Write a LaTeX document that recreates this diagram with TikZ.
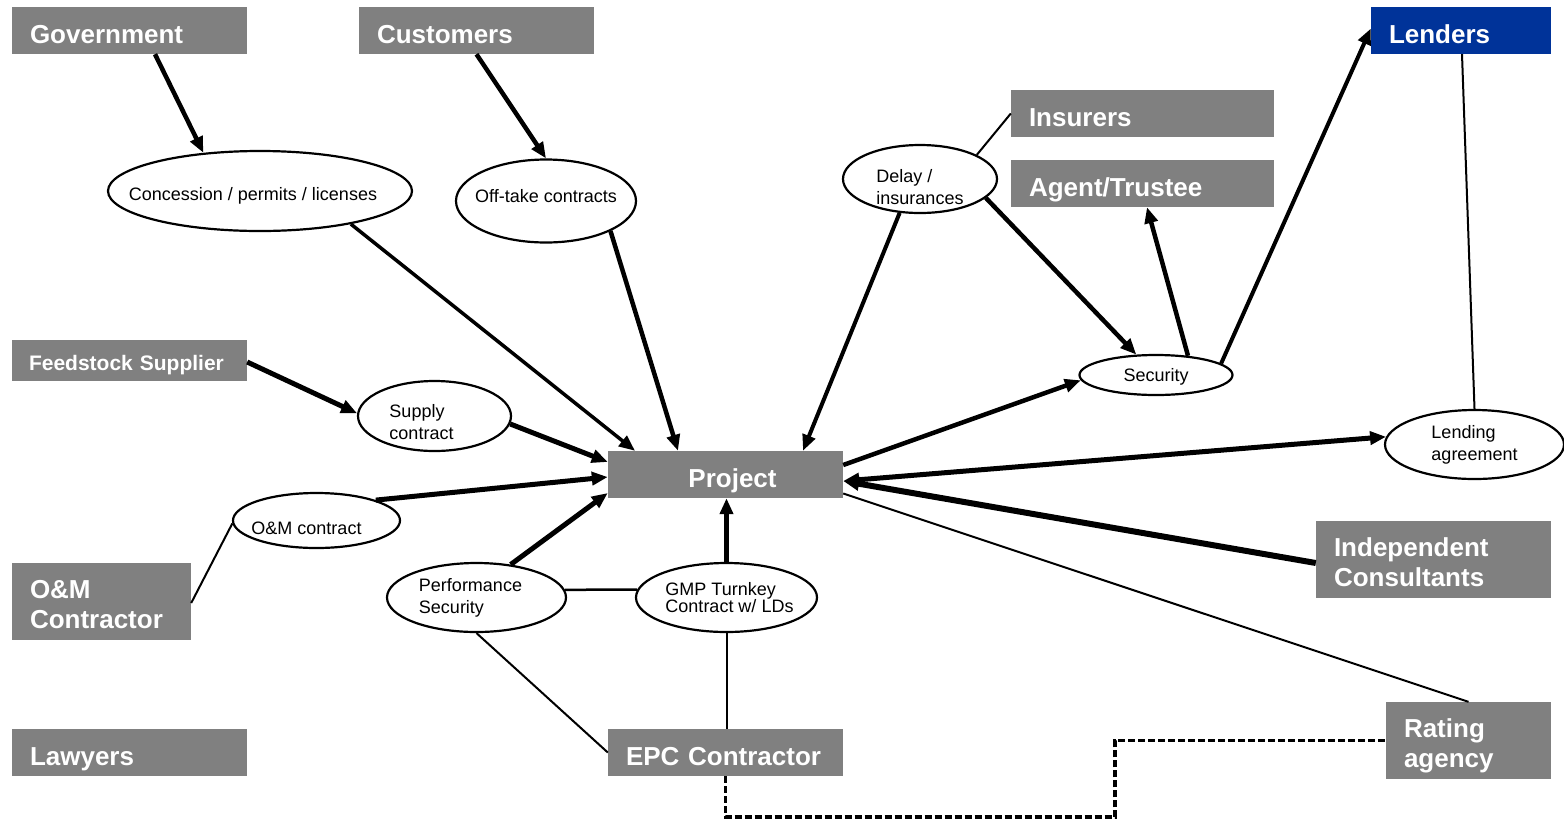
\documentclass[tikz,border=0pt]{standalone}
\usepackage{fontspec}
\setmainfont{Liberation Sans}
\usetikzlibrary{shapes.geometric,arrows.meta,calc}
\definecolor{boxgray}{RGB}{128,128,128}
\definecolor{lendblue}{RGB}{0,51,153}
\newcommand\bxone{\rule[-6pt]{0pt}{37pt}}
\newcommand\bxfeed{\rule[-6pt]{0pt}{31pt}}
\newcommand\bxtop{\rule{0pt}{29.5pt}}
\newcommand\bxbot{\rule[-6pt]{0pt}{6pt}}
\begin{document}
\begin{tikzpicture}[x=1pt,y=-1pt,
  >={Triangle[length=16pt,width=13pt]},
  pbox/.style={fill=boxgray,text=white,font=\fontsize{26}{30}\selectfont\bfseries,inner xsep=18pt,inner ysep=0pt,align=left,anchor=center},
  ell/.style={draw,line width=2.2pt,ellipse,inner sep=0pt,fill=white},
  etext/.style={font=\fontsize{18}{22}\selectfont,align=left,inner sep=0pt},
  arr/.style={line width=4.5pt,->},
  thinl/.style={line width=2pt},
]
\useasboundingbox (0,0) rectangle (1564,820);

% boxes
\node[pbox,text width=199pt,minimum height=47pt] (gov) at (129.5,30.5) {\bxone Government};
\node[pbox,text width=199pt,minimum height=47pt] (cust) at (476.5,30.5) {\bxone Customers};
\node[pbox,fill=lendblue,text width=144pt,minimum height=47pt] (len) at (1461,30.5) {\bxone Lenders};
\node[pbox,text width=227pt,minimum height=47pt] (ins) at (1142.5,113.5) {\bxone Insurers};
\node[pbox,text width=227pt,minimum height=47pt] (agent) at (1142.5,183.5) {\bxone Agent/Trustee};
\node[pbox,font=\fontsize{21}{25}\selectfont\bfseries,inner xsep=17pt,text width=201pt,minimum height=41pt] (feed) at (129.5,360.5) {\bxfeed Feedstock Supplier};
\node[pbox,align=center,text width=199pt,minimum height=47pt] (proj) at (725.5,474.5) {\bxone\hspace*{14pt}Project};
\node[pbox,text width=143pt,minimum height=77pt] (omc) at (101.5,601.5) {\bxtop O\&M\\\bxbot Contractor};
\node[pbox,text width=199pt,minimum height=47pt] (law) at (129.5,752.5) {\bxone Lawyers};
\node[pbox,text width=199pt,minimum height=47pt] (epc) at (725.5,752.5) {\bxone EPC Contractor};
\node[pbox,text width=199pt,minimum height=77pt] (ind) at (1433.5,559.5) {\bxtop Independent\\\bxbot Consultants};
\node[pbox,text width=129pt,minimum height=77pt] (rat) at (1468.5,740.5) {\bxtop Rating\\\bxbot agency};

% ellipses
\node[ell,minimum width=304pt,minimum height=80pt,label={[etext,xshift=-7pt,yshift=-5pt]center:Concession / permits / licenses}] (conc) at (260,191) {};
\node[ell,minimum width=180pt,minimum height=83pt,label={[etext,yshift=5pt]center:Off-take contracts}] (off) at (546,201) {};
\node[ell,minimum width=154pt,minimum height=68pt,label={[etext,yshift=-8pt]center:Delay /\\insurances}] (delay) at (920,179) {};
\node[ell,minimum width=153pt,minimum height=40pt,label={[etext,yshift=-2pt]center:Security}] (sec) at (1156,375) {};
\node[ell,minimum width=153pt,minimum height=70pt,label={[etext,xshift=-13pt,yshift=-6.5pt]center:Supply\\contract}] (sup) at (434.5,416) {};
\node[ell,minimum width=167pt,minimum height=55pt,label={[etext,xshift=-10pt,yshift=-8pt]center:O\&M contract}] (om) at (316.5,520.5) {};
\node[ell,minimum width=179pt,minimum height=69pt,label={[etext,xshift=-6pt]center:Performance\\Security}] (perf) at (476.5,597.5) {};
\node[ell,minimum width=181pt,minimum height=69pt,label={[etext,font=\fontsize{18}{17}\selectfont,xshift=3pt]center:GMP Turnkey\\Contract w/ LDs}] (gmp) at (726.5,597.5) {};
\node[ell,minimum width=179pt,minimum height=69pt,label={[etext]center:Lending\\agreement}] (lend) at (1474.5,444.5) {};

% connectors
\draw[arr] ([xshift=25.5pt]gov.south) -- (conc.146);
\draw[arr] (cust.south) -- (off.north);
\draw[arr,line width=3.5pt] (conc.-20) -- ([xshift=-90.5pt]proj.north);
\draw[arr] (off.-25) -- ([xshift=-47.5pt]proj.north);
\draw[arr,line width=4pt] (delay.-121) -- ([xshift=77.5pt]proj.north);
\draw[arr] (delay.-16) -- (sec.134);
\draw[thinl] (delay.23) -- (ins.west);
\draw[arr] (sec.31) -- ([xshift=4.5pt]agent.south);
\draw[arr,line width=4pt] (sec.10) -- ([yshift=2pt]len.west);
\draw[thinl] ([xshift=1pt]len.south) -- (lend.north);
\draw[arr] ([yshift=9.5pt]proj.east) -- (sec.184);
\draw[line width=5pt,<->] ([yshift=-6.5pt]proj.east) -- (lend.175);
\draw[arr,line width=6pt] ([yshift=-3.5pt]ind.west) -- ([yshift=-6.5pt]proj.east);
\draw[thinl] (rat.north) -- ([yshift=-19pt]proj.east);
\draw[arr,line width=5pt] ([yshift=-1.5pt]feed.east) -- (sup.178);
\draw[arr,line width=5pt] (sup.-6) -- ([yshift=12.5pt]proj.west);
\draw[arr,line width=5pt] (om.19) -- ([yshift=-2.5pt]proj.west);
\draw[thinl] ([yshift=-1.5pt]omc.east) -- (om.182);
\draw[arr,line width=5pt] (perf.44) -- ([yshift=-18.5pt]proj.west);
\draw[arr,line width=5pt] (gmp.north) -- (gmp.north |- proj.south);
\draw[line width=2.5pt] (perf.5) -- (gmp.175);
\draw[thinl] (perf.south) -- (epc.west);
\draw[thinl] (gmp.south) -- (gmp.south |- epc.north);
\coordinate (bend) at (1115,817);
\draw[line width=3.5pt,dash pattern=on 7pt off 3pt] (epc.south) |- (bend) |- (rat.west);
\end{tikzpicture}
\end{document}
